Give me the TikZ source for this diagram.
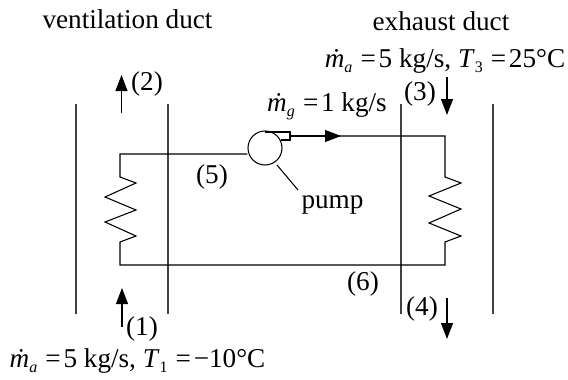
\documentclass[tikz,border=0pt]{standalone}
\usepackage{fontspec}
\setmainfont{Liberation Serif}
\usetikzlibrary{arrows.meta}

\newcommand{\lowsub}[1]{\raisebox{-0.22em}{\fontsize{12pt}{12pt}\selectfont #1}}
\newcommand{\mflow}[1]{\textit{\.m}\lowsub{\textit{#1}}}
\newcommand{\eqsign}{\hspace{0.3em}=\hspace{0.1em}}

\tikzset{
    lbl/.style={inner sep=0pt, anchor=base, font=\fontsize{20.4pt}{24pt}\selectfont},
    duct/.style={line width=0.85pt, black!75},
    pipe/.style={line width=0.8pt},
    flow/.style={line width=0.8pt, -{Triangle[length=12pt, width=9pt]}},
}

\begin{document}
\begin{tikzpicture}[x=0.75pt, y=-0.75pt]

    \useasboundingbox (0, 0) rectangle (568, 379);

    % Ducts
    \foreach \name/\x in {a/76, b/168, c/401, d/493} {
            \coordinate (\name top) at (\x, 104);
            \coordinate (\name bot) at (\x, 314);
            \draw [duct] (\name top) -- (\name bot);
        }

    % Pump
    \node [circle, draw, pipe, minimum size=25.5pt, inner sep=0pt] (pump) at (265, 148) {};
    \coordinate (stubtl) at (265, 132);
    \coordinate (stubtr) at (290, 132);
    \coordinate (stubbr) at (290, 140);
    \coordinate (stubbl) at (280.5, 140);
    \draw [pipe] (stubtl) -- (stubtr) -- (stubbr) -- (stubbl);

    % Loop
    \coordinate (lefttop) at (120, 154);
    \coordinate (leftbot) at (120, 265);
    \coordinate (rightbot) at (445, 265);
    \coordinate (righttop) at (445, 136);
    \coordinate (outlet) at (290, 136);
    \coordinate (flowtip) at (341, 136);
    \draw [pipe] (pump.west |- lefttop) -- (lefttop) -- (120, 177)
        -- (136, 183) -- (105, 197) -- (136, 210) -- (105, 222) -- (136, 236)
        -- (120, 242) -- (leftbot) -- (rightbot) -- (445, 242)
        -- (461, 236) -- (429, 223) -- (461, 209) -- (429, 196) -- (461, 183)
        -- (445, 177) -- (righttop) -- (outlet);
    \draw [flow] (outlet) -- (flowtip);

    % Air streams
    \coordinate (onestart) at (122, 327);
    \coordinate (oneend) at (122, 288);
    \coordinate (twostart) at (121.5, 113);
    \coordinate (twoend) at (121.5, 75);
    \coordinate (threestart) at (447, 77);
    \coordinate (threeend) at (447, 115);
    \coordinate (fourstart) at (447, 298);
    \coordinate (fourend) at (447, 339);
    \draw [flow] (onestart) -- (oneend);
    \draw [flow] (twostart) -- (twoend);
    \draw [flow] (threestart) -- (threeend);
    \draw [flow] (fourstart) -- (fourend);

    % Labels
    \node [lbl] (ventlabel) at (127.5, 28) {ventilation duct};
    \node [lbl] (exhlabel) at (441, 30) {exhaust duct};
    \node [lbl] (exhstate) at (445, 67) {\mflow{a}\eqsign 5 kg/s, \textit{T}\lowsub{3}\eqsign 25°C};
    \node [lbl] (ventstate) at (137.5, 367) {\mflow{a}\eqsign 5 kg/s, \textit{T}\lowsub{1}\eqsign −10°C};
    \node [lbl] (rate) at (327, 111) {\mflow{g}\eqsign 1 kg/s};
    \node [lbl] (pt1) at (142, 335) {(1)};
    \node [lbl] (pt2) at (147, 90) {(2)};
    \node [lbl] (pt3) at (420, 100) {(3)};
    \node [lbl] (pt4) at (422, 315) {(4)};
    \node [lbl] (pt5) at (212, 183) {(5)};
    \node [lbl] (pt6) at (363, 290) {(6)};
    \node [lbl] (pumplabel) at (332.5, 208) {pump};

    % Pump leader
    \coordinate (leaderstart) at (277, 165);
    \coordinate (leaderend) at (298, 190);
    \draw [pipe] (leaderstart) -- (leaderend);

\end{tikzpicture}
\end{document}
